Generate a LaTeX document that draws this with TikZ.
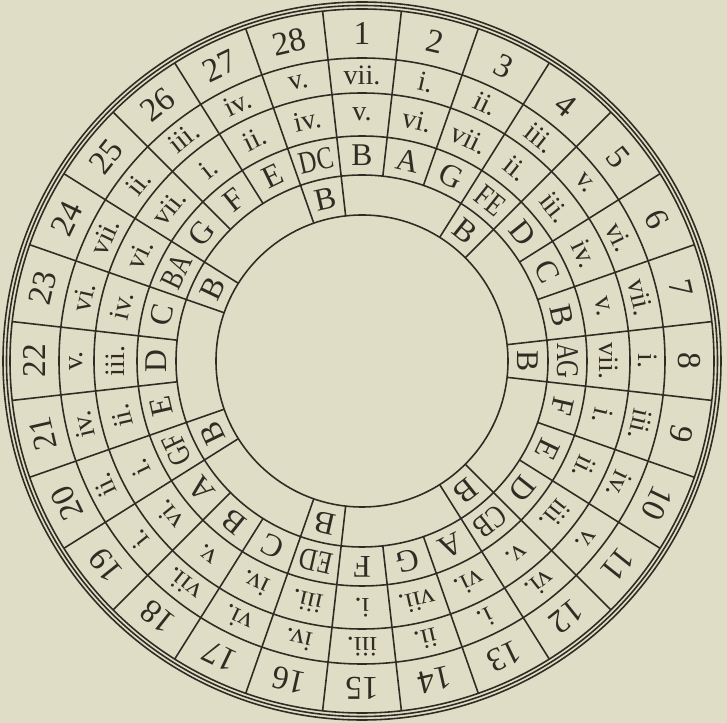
\documentclass[tikz,border=0pt]{standalone}
\usepackage{fontspec}
\setmainfont{Liberation Serif}
\definecolor{paper}{RGB}{224,221,198}
\definecolor{ink}{RGB}{48,44,36}
\newcommand{\twolet}[1]{\scalebox{0.78}[1]{#1}}
\tikzset{
  numtxt/.style={font=\fontsize{19}{19}\selectfont, inner sep=0pt},
  romtxt/.style={font=\fontsize{16}{16}\selectfont, inner sep=0pt},
  lettxt/.style={font=\fontsize{18}{18}\selectfont, inner sep=0pt}
}
\begin{document}
\begin{tikzpicture}[x=0.02cm, y=0.02cm, line width=0.9pt, draw=ink, text=ink]
        % units are pixels of the scan; sector k is centred at 90-(k-1)*360/28 deg,
        % text is turned so that its foot points to the centre
        \fill[paper] (-362,-362) rectangle (365,361);
        \useasboundingbox (-362,-362) rectangle (365,361);
        \foreach \r in {352,355.5,359} \draw (0,0) circle[radius=\r];
        \foreach \r in {303,268,225,186,146} \draw (0,0) circle[radius=\r];
        \foreach \k in {1,...,28}
          \draw ({90-(\k-0.5)*360/28}:186) -- ({90-(\k-0.5)*360/28}:352);
        \foreach \k/\ra/\rb/\dl in {1/vii./v./B, 2/i./vi./A, 3/ii./vii./G, 4/iii./ii./\twolet{FE},
            5/v./iii./D, 6/vi./iv./C, 7/vii./v./B, 8/i./vii./\twolet{AG}, 9/iii./i./F, 10/iv./ii./E,
            11/v./iii./D, 12/vi./v./\twolet{CB}, 13/i./vi./A, 14/ii./vii./G, 15/iii./i./F,
            16/iv./iii./\twolet{ED}, 17/vi./iv./C, 18/vii./v./B, 19/i./vi./A, 20/ii./i./\twolet{GF},
            21/iv./ii./E, 22/v./iii./D, 23/vi./iv./C, 24/vii./vi./\twolet{BA}, 25/ii./vii./G,
            26/iii./i./F, 27/iv./ii./E, 28/v./iv./\twolet{DC}}{
          \pgfmathsetmacro{\a}{90-(\k-1)*360/28}
          \node[numtxt, rotate=\a-90] (year\k) at (\a:327.5) {\k};
          \node[romtxt, rotate=\a-90] (romA\k) at (\a:285.5) {\ra};
          \node[romtxt, rotate=\a-90] (romB\k) at (\a:246.5) {\rb};
          \node[lettxt, rotate=\a-90] (letter\k) at (\a:205.5) {\dl};
        }
        % leap years get a second letter B in the inner ring
        \foreach \k in {4,8,...,28}{
          \pgfmathsetmacro{\a}{90-(\k-1)*360/28}
          \draw (\a+180/28:146) -- (\a+180/28:186);
          \draw (\a-180/28:146) -- (\a-180/28:186);
          \node[lettxt, rotate=\a-90] (leap\k) at (\a:166) {B};
        }
      \end{tikzpicture}
\end{document}
